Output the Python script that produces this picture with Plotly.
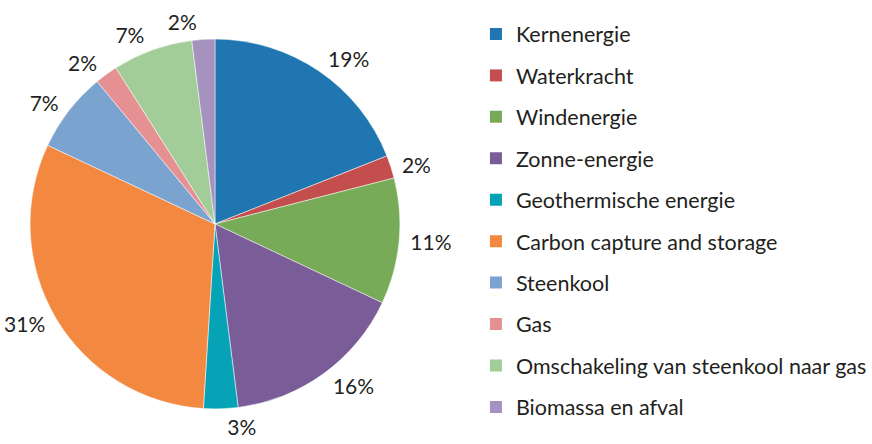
import plotly.graph_objects as go

labels = ["Kernenergie", "Waterkracht", "Windenergie", "Zonne-energie",
          "Geothermische energie", "Carbon capture and storage", "Steenkool",
          "Gas", "Omschakeling van steenkool naar gas", "Biomassa en afval"]
values = [19, 2, 11, 16, 3, 31, 7, 2, 7, 2]
colors = ["#1F76B0", "#C44E4D", "#78AB57", "#7A5C99", "#06A3B7",
          "#F38940", "#7BA3CF", "#E59093", "#A3CD98", "#A592BF"]

FONT = "Lato"
TXT = "#231F20"
W, H = 872, 444

fig = go.Figure()
# coloured pie (no text)
fig.add_trace(go.Pie(
    labels=labels, values=values, sort=False, direction="clockwise", rotation=0,
    marker=dict(colors=colors, line=dict(color="white", width=0.5)),
    textinfo="none", showlegend=False, hoverinfo="label+percent", automargin=False,
    domain=dict(x=[0.0344, 0.4587], y=[0.079, 0.912]),
))

# transparent, slightly larger twin pies carrying the outside labels
# (last slice's label on its own twin so it is not pushed by its neighbour)
n = len(labels)
label_sets = [
    ["%{value}%"] * (n - 1) + [""],
    [""] * (n - 1) + ["%{value}%"],
]
for tt in label_sets:
    fig.add_trace(go.Pie(
        labels=labels, values=values, sort=False, direction="clockwise", rotation=0,
        marker=dict(colors=["rgba(0,0,0,0)"] * n, line=dict(width=0)),
        texttemplate=tt, textposition="outside",
        textfont=dict(family=FONT, size=21, color=TXT),
        showlegend=False, hoverinfo="skip", automargin=False,
        domain=dict(x=[0.0287, 0.4644], y=[0.0676, 0.9234]),
    ))

# one small legend per entry, stacked at a fixed pitch
legends = {}
for i, (lab, col) in enumerate(zip(labels, colors)):
    key = "legend" if i == 0 else f"legend{i + 1}"
    fig.add_trace(go.Scatter(
        x=[None], y=[None], mode="markers", name=lab, legend=key,
        marker=dict(symbol="square", size=16, color=col),
    ))
    legends[key] = dict(
        x=0.5458, xanchor="left", y=1 - (34 + i * 41.44) / H, yanchor="middle",
        font=dict(family=FONT, size=21.5, color=TXT), itemsizing="constant",
        bgcolor="rgba(0,0,0,0)",
    )

fig.update_layout(
    width=W, height=H,
    margin=dict(l=0, r=0, t=0, b=0, autoexpand=False),
    paper_bgcolor="white", plot_bgcolor="white",
    xaxis=dict(visible=False), yaxis=dict(visible=False),
    font=dict(family=FONT, color=TXT),
    **legends,
)

page_css = ("var s=document.createElement('style');"
            "s.textContent='html,body{margin:0;padding:0;overflow:hidden}"
            " path.textline{display:none}';"
            "document.head.appendChild(s);")
fig.write_html("out.html", post_script=page_css,
               config={"displayModeBar": False})
